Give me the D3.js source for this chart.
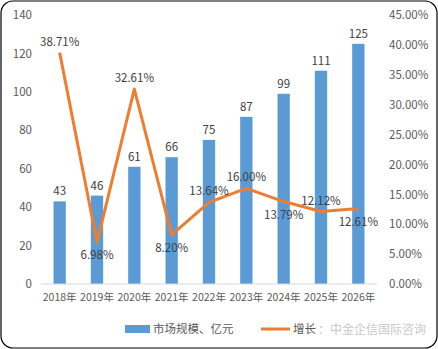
<!DOCTYPE html>
<html>
<head>
<meta charset="utf-8">
<script src="https://cdn.jsdelivr.net/npm/d3@7"></script>
<style>
  body { margin: 0; background: #fff; }
  text { font-family: "Microsoft YaHei", "Noto Sans CJK SC", "DejaVu Sans", sans-serif; }
</style>
</head>
<body>
<svg id="chart" width="438" height="349"></svg>
<script>
// data
const years = ["2018年", "2019年", "2020年", "2021年", "2022年", "2023年", "2024年", "2025年", "2026年"];
const marketSize = [43, 46, 61, 66, 75, 87, 99, 111, 125];
const growth = [38.71, 6.98, 32.61, 8.20, 13.64, 16.00, 13.79, 12.12, 12.61];
const growthLabelPos = ["above", "below", "above", "below", "above", "above", "below", "above", "below"];
const leftTicks = [0, 20, 40, 60, 80, 100, 120, 140];
const rightTicks = [0, 5, 10, 15, 20, 25, 30, 35, 40, 45];

let width = 438,
    height = 349,
    textColor = "#595959";

let svg = d3.select("#chart");

// rounded frame
svg.append("rect")
    .attr("x", 1).attr("y", 1)
    .attr("width", width - 2).attr("height", height - 2)
    .attr("rx", 12)
    .attr("fill", "#fff")
    .attr("stroke", "#000")
    .attr("stroke-width", 1.2);

let x = d3.scaleBand()
    .domain(years)
    .range([41, 377])
    .paddingInner(0.67)
    .paddingOuter(0.335);

let y = d3.scaleLinear().domain([0, 140]).range([284, 15]);
let y2 = d3.scaleLinear().domain([0, 45]).range([284, 15]);

// left axis
let left = svg.append("g")
    .attr("transform", "translate(32,0)")
    .call(d3.axisLeft(y).tickValues(leftTicks).tickSize(0).tickPadding(0));
left.select(".domain").remove();
left.selectAll("text")
    .attr("fill", textColor)
    .style("font-size", "11.5px");

// right axis
let right = svg.append("g")
    .attr("transform", "translate(389,0)")
    .call(d3.axisRight(y2).tickValues(rightTicks).tickSize(0).tickPadding(0)
        .tickFormat(d => d.toFixed(2) + "%"));
right.select(".domain").remove();
right.selectAll("text")
    .attr("fill", textColor)
    .style("font-size", "11.5px");

// bars
svg.append("g")
    .selectAll("rect")
    .data(marketSize)
    .join("rect")
    .attr("x", (d, i) => x(years[i]))
    .attr("y", d => y(d))
    .attr("width", x.bandwidth())
    .attr("height", d => y(0) - y(d))
    .attr("fill", "#5B9BD5");

// bottom axis
let bottom = svg.append("g")
    .attr("transform", "translate(0,284)")
    .call(d3.axisBottom(x).tickSize(0).tickPadding(10));
bottom.select(".domain").attr("stroke", "#D9D9D9").attr("d", "M41,0H377");
bottom.selectAll("text")
    .attr("fill", textColor)
    .style("font-size", "10.5px");

// bar value labels
svg.append("g")
    .selectAll("text")
    .data(marketSize)
    .join("text")
    .attr("x", (d, i) => x(years[i]) + x.bandwidth() / 2)
    .attr("y", d => y(d) - 6)
    .attr("text-anchor", "middle")
    .attr("fill", "#404040")
    .style("font-size", "11.5px")
    .text(d => d);

// growth line
let line = d3.line()
    .x((d, i) => x(years[i]) + x.bandwidth() / 2)
    .y(d => y2(d));

svg.append("path")
    .datum(growth)
    .attr("fill", "none")
    .attr("stroke", "#ED7D31")
    .attr("stroke-width", 3)
    .attr("stroke-linejoin", "round")
    .attr("d", line);

svg.append("g")
    .selectAll("text")
    .data(growth)
    .join("text")
    .attr("x", (d, i) => x(years[i]) + x.bandwidth() / 2)
    .attr("y", (d, i) => growthLabelPos[i] == "above" ? y2(d) - 7 : y2(d) + 17)
    .attr("text-anchor", "middle")
    .attr("fill", "#404040")
    .style("font-size", "11.5px")
    .text(d => d.toFixed(2) + "%");

// legend
let legend = svg.append("g");
legend.append("rect")
    .attr("x", 125).attr("y", 325)
    .attr("width", 25).attr("height", 8)
    .attr("fill", "#5B9BD5");
legend.append("text")
    .attr("x", 153).attr("y", 333)
    .attr("fill", textColor)
    .style("font-size", "11.5px")
    .text("市场规模、亿元");
legend.append("line")
    .attr("x1", 261).attr("x2", 290)
    .attr("y1", 329).attr("y2", 329)
    .attr("stroke", "#ED7D31")
    .attr("stroke-width", 3);
legend.append("text")
    .attr("x", 293).attr("y", 333)
    .attr("fill", textColor)
    .style("font-size", "11.5px")
    .text("增长");

// watermark
svg.append("text")
    .attr("x", 318).attr("y", 334)
    .attr("fill", "#c8c8c8")
    .style("font-size", "12px")
    .text("：中金企信国际咨询");
</script>
</body>
</html>
